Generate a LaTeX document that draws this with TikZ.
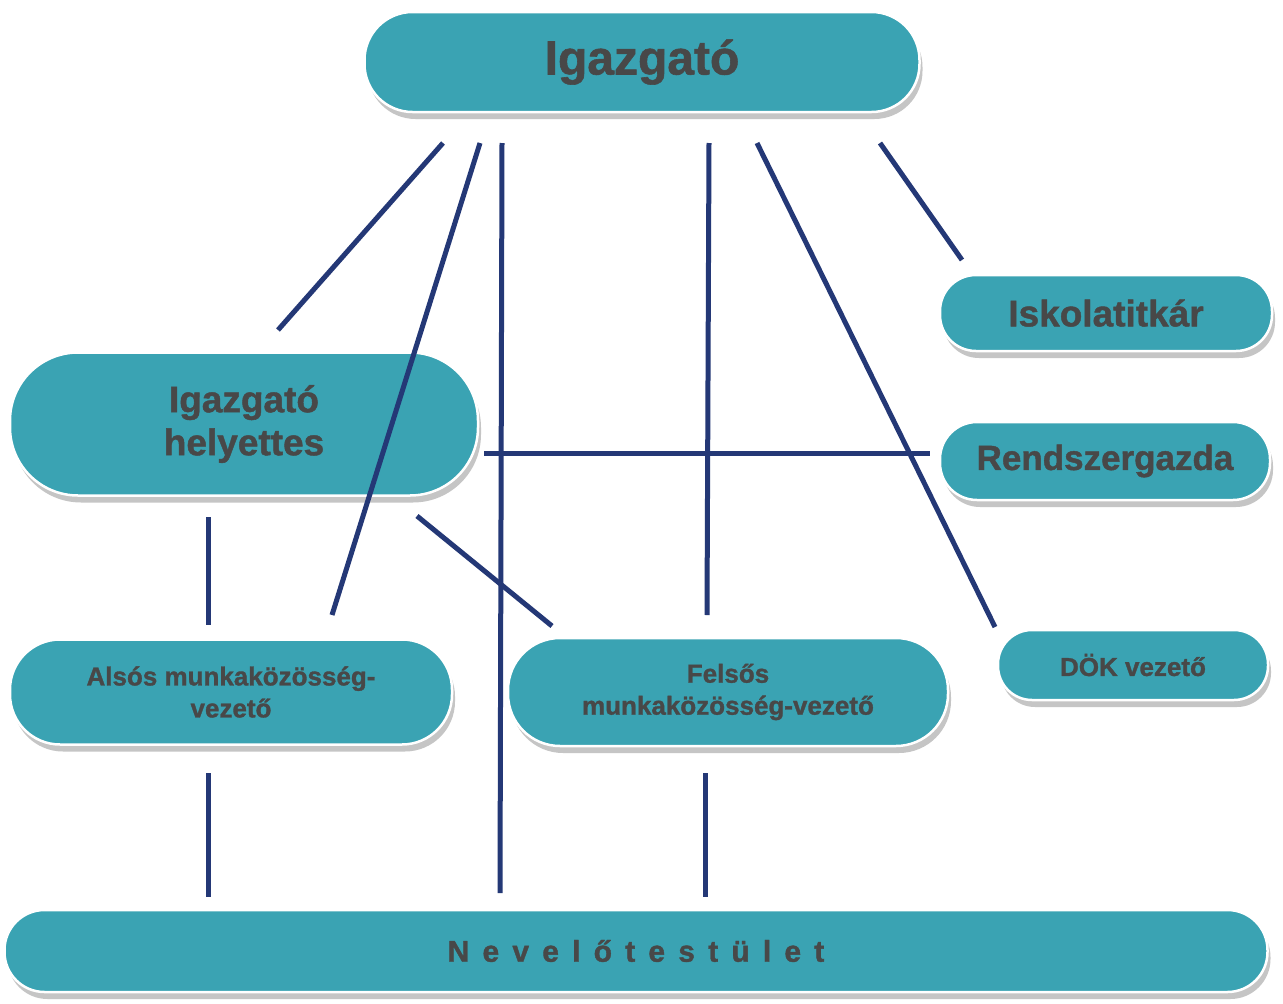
\documentclass[tikz,border=0pt]{standalone}
\usepackage{fontspec}
\setmainfont{Liberation Sans}[BoldFeatures={FakeBold=1.2}]
\usetikzlibrary{shadows}
\definecolor{boxfill}{RGB}{58,163,179}
\definecolor{linecol}{RGB}{36,56,118}
\definecolor{txt}{RGB}{72,72,72}
\begin{document}
\begin{tikzpicture}[x=1pt,y=-1pt,
  box/.style={fill=boxfill, draw=white, line width=2.5pt, text=txt, align=center, inner sep=0pt,
    drop shadow={shadow xshift=3pt,shadow yshift=-7pt,opacity=.5,fill=black!45}},
  conn/.style={draw=linecol, line width=5pt}]
\useasboundingbox[fill=white] (0,0) rectangle (1283,1004);

\node[box, minimum width=555pt, minimum height=100pt, rounded corners=48pt, font=\bfseries\fontsize{48}{56}\selectfont] (dir) at (642,62) {Igazgató};
\node[box, minimum width=332pt, minimum height=76pt, rounded corners=36pt, font=\bfseries\fontsize{37}{44}\selectfont] (titk) at (1106,313) {Iskolatitkár};
\node[box, minimum width=330pt, minimum height=78pt, rounded corners=37pt, font=\bfseries\fontsize{35}{42}\selectfont] (rend) at (1105,461) {Rendszergazda};
\node[box, minimum width=468pt, minimum height=143pt, rounded corners=68pt, font=\bfseries\fontsize{37}{43}\selectfont] (hely) at (244,424) {Igazgató\\helyettes};
\node[box, minimum width=442pt, minimum height=105pt, rounded corners=50pt, font=\bfseries\fontsize{26}{32}\selectfont] (also) at (231,692) {Alsós munkaközösség-\\vezető};
\node[box, minimum width=440pt, minimum height=108pt, rounded corners=52pt, font=\bfseries\fontsize{26}{32}\selectfont] (felso) at (728,692) {Felsős\\munkaközösség-vezető};
\node[box, minimum width=270pt, minimum height=70pt, rounded corners=34pt, font=\bfseries\fontsize{26}{32}\selectfont] (dok) at (1133,665) {DÖK vezető};
\node[box, minimum width=1263pt, minimum height=82pt, rounded corners=40pt, font=\bfseries\fontsize{30}{34}\selectfont\addfontfeatures{LetterSpace=44}] (nev) at (636,951) {Nevelőtestület};

% connector ends
\coordinate (d1) at (443,143); \coordinate (h1) at (278,330);
\coordinate (d2) at (480,143); \coordinate (a1) at (332,615);
\coordinate (d3) at (502,143); \coordinate (n1) at (500,893);
\coordinate (d4) at (709,143); \coordinate (f1) at (707,615);
\coordinate (d5) at (757,143); \coordinate (k1) at (995,627);
\coordinate (d6) at (880,143); \coordinate (t1) at (962,260);
\coordinate (h2) at (484,453); \coordinate (r1) at (930,453);
\coordinate (h3) at (208,517); \coordinate (a2) at (208,625);
\coordinate (h4) at (417,516); \coordinate (f2) at (552,626);
\coordinate (a3) at (208,773); \coordinate (n2) at (208,897);
\coordinate (f3) at (705,773); \coordinate (n3) at (705,897);

\draw[conn] (d1) -- (h1);
\draw[conn] (d2) -- (a1);
\draw[conn] (d3) -- (n1);
\draw[conn] (d4) -- (f1);
\draw[conn] (d5) -- (k1);
\draw[conn] (d6) -- (t1);
\draw[conn] (h2) -- (r1);
\draw[conn] (h3) -- (a2);
\draw[conn] (h4) -- (f2);
\draw[conn] (a3) -- (n2);
\draw[conn] (f3) -- (n3);
\end{tikzpicture}
\end{document}
